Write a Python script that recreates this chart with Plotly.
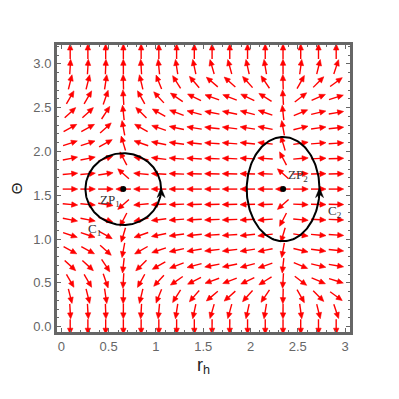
import numpy as np
import plotly.graph_objects as go

# ---- data ----
# r_h grid and radial component of the field at each column
r_h = [0.094, 0.281, 0.469, 0.656, 0.844, 1.031, 1.219, 1.406,
       1.594, 1.781, 1.969, 2.156, 2.344, 2.531, 2.719, 2.906]
phi_r = [2.0, 2.0, 1.2, -0.2, -1.9, -3.2, -5.0, -6.9,
         -9.5, -9.0, -7.2, -5.5, -0.2, 4.5, 8.0, 11.0]
# Theta grid and angular component of the field at each row
theta = [0.0, 0.175, 0.349, 0.524, 0.698, 0.873, 1.047, 1.222, 1.396, 1.571,
         1.745, 1.920, 2.094, 2.269, 2.443, 2.618, 2.793, 2.967, 3.142]
phi_theta = [-10000.0, -32.7, -8.03, -3.46, -1.85, -1.09, -0.667, -0.387, -0.179, 0.0,
             0.179, 0.387, 0.667, 1.09, 1.85, 3.46, 8.03, 32.7, 10000.0]

zp_r = [0.655, 2.345]
zp_theta = [1.571, 1.571]
zp_labels = ["ZP<sub>1</sub>", "ZP<sub>2</sub>"]
zp_label_pos = [(0.515, 1.446), (2.50, 1.73)]
contour_a = [0.40, 0.385]
contour_b = [0.41, 0.595]
contour_labels = ["C<sub>1</sub>", "C<sub>2</sub>"]
contour_label_pos = [(0.356, 1.115), (2.89, 1.31)]

x_ticks = [0, 0.5, 1, 1.5, 2, 2.5, 3]
x_ticktext = ["0", "0.5", "1", "1.5", "2", "2.5", "3"]
y_ticks = [0.0, 0.5, 1.0, 1.5, 2.0, 2.5, 3.0]
y_ticktext = ["0.0", "0.5", "1.0", "1.5", "2.0", "2.5", "3.0"]

# ---- geometry (page body has an 8px margin, compensated here) ----
W = H = 399
ML, MR, MT, MB = 49, 57, 37, 75
PW, PH = W - ML - MR, H - MT - MB
xr = [-0.0455, 3.052]
yr = [-0.0605, 3.216]
kx = PW / (xr[1] - xr[0])
ky = PH / (yr[1] - yr[0])

L, HL, HW = 15.0, 6.0, 2.7
sx, sy, hx, hy = [], [], [], []
for j, th in enumerate(theta):
    for i, r in enumerate(r_h):
        u, w = phi_r[i], phi_theta[j]
        n = np.hypot(u, w)
        if n == 0:
            continue
        dx, dy = u / n, w / n
        tip = (L / 2 * dx, L / 2 * dy)
        tail = (-L / 2 * dx, -L / 2 * dy)
        base = (tip[0] - HL * dx, tip[1] - HL * dy)
        px_, py_ = -dy, dx
        sx += [r + tail[0] / kx, r + (base[0] + 0.8 * dx) / kx, None]
        sy += [th + tail[1] / ky, th + (base[1] + 0.8 * dy) / ky, None]
        pts = [tip, (base[0] + HW * px_, base[1] + HW * py_),
               (base[0] - HW * px_, base[1] - HW * py_), tip]
        hx += [r + p[0] / kx for p in pts] + [None]
        hy += [th + p[1] / ky for p in pts] + [None]

fig = go.Figure()
fig.add_trace(go.Scatter(x=sx, y=sy, mode="lines",
                         line=dict(color="#ff0000", width=1.4),
                         hoverinfo="skip", showlegend=False))
fig.add_trace(go.Scatter(x=hx, y=hy, mode="lines", fill="toself",
                         fillcolor="#ff0000", line=dict(color="#ff0000", width=0.6),
                         hoverinfo="skip", showlegend=False))

# contours
phi = np.linspace(0, 2 * np.pi, 200)
for k in range(2):
    cx, cy, a, b = zp_r[k], zp_theta[k], contour_a[k], contour_b[k]
    fig.add_trace(go.Scatter(x=cx + a * np.cos(phi), y=cy + b * np.sin(phi),
                             mode="lines", line=dict(color="black", width=2),
                             hoverinfo="skip", showlegend=False))
    # arrow head at the rightmost point pointing up
    tx, ty = cx + a, cy + 1.5 / ky
    hl, hw, notch = 10.0, 4.0, 3.0
    pts = [(0, 0), (-hw, -hl), (0, -hl + notch), (hw, -hl), (0, 0)]
    fig.add_trace(go.Scatter(x=[tx + p[0] / kx for p in pts],
                             y=[ty + p[1] / ky for p in pts],
                             mode="lines", fill="toself", fillcolor="black",
                             line=dict(color="black", width=0.5),
                             hoverinfo="skip", showlegend=False))

fig.add_trace(go.Scatter(x=zp_r, y=zp_theta, mode="markers",
                         marker=dict(color="black", size=6),
                         hoverinfo="skip", showlegend=False))

ann = []
for k in range(2):
    ann.append(dict(x=zp_label_pos[k][0], y=zp_label_pos[k][1], xref="x", yref="y",
                    text=zp_labels[k], showarrow=False,
                    font=dict(family="Liberation Serif", size=13, color="#333333")))
    ann.append(dict(x=contour_label_pos[k][0], y=contour_label_pos[k][1], xref="x", yref="y",
                    text=contour_labels[k], showarrow=False,
                    font=dict(family="Liberation Serif", size=13, color="#333333")))

axis_common = dict(showline=True, linewidth=3, linecolor="#666666", mirror="allticks",
                   ticks="inside", ticklen=4, tickwidth=1, tickcolor="#666666",
                   showgrid=False, zeroline=False,
                   tickfont=dict(family="Liberation Sans", size=13, color="#666666"),
                   minor=dict(ticks="inside", ticklen=2, tickcolor="#666666", dtick=0.1),
                   automargin=False)

fig.update_layout(
    width=W, height=H,
    margin=dict(l=ML, r=MR, t=MT, b=MB),
    paper_bgcolor="white", plot_bgcolor="white",
    annotations=ann,
    xaxis=dict(range=xr, tickvals=x_ticks, ticktext=x_ticktext,
               title=dict(text="r<sub>h</sub>", standoff=6,
                          font=dict(family="Liberation Sans", size=18, color="#222222")),
               **axis_common),
    yaxis=dict(range=yr, tickvals=y_ticks, ticktext=y_ticktext,
               title=dict(text="Θ", standoff=11,
                          font=dict(family="Liberation Sans", size=15, color="#222222")),
               **axis_common),
)

fig.write_html("out.html")
